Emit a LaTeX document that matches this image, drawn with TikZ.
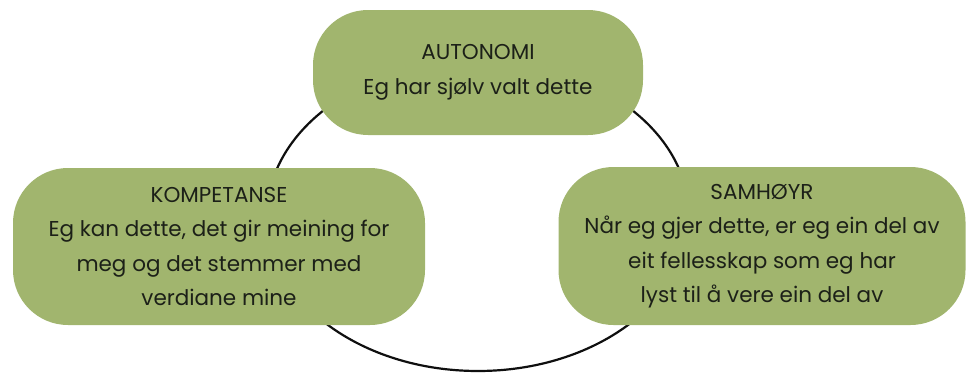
\documentclass[tikz,border=0pt]{standalone}
\usepackage{fontspec}
\setmainfont{Poppins}
\definecolor{pillgreen}{RGB}{161,181,110}
\definecolor{inktext}{RGB}{28,32,24}
\definecolor{ringline}{RGB}{15,15,15}
\begin{document}
\begin{tikzpicture}[x=1pt,y=-1pt,
  pill/.style={fill=pillgreen, draw=none, rounded corners=55pt, inner sep=0pt,
    align=center, text=inktext, font=\fontsize{21.5}{34.5}\selectfont},
  ring/.style={draw=ringline, line width=2.2pt}]
  \useasboundingbox (0,0) rectangle (966,372);
  \draw[ring] (478,216) ellipse [x radius=211, y radius=155];
  \node[pill, minimum width=330pt, minimum height=125pt] (auto) at (478,72.5)
    {AUTONOMI\\Eg har sjølv valt dette};
  \node[pill, minimum width=412pt, minimum height=157pt] (komp) at (219,246.5)
    {KOMPETANSE\\Eg kan dette, det gir meining for\\meg og det stemmer med\\verdiane mine};
  \node[pill, minimum width=407pt, minimum height=158pt] (samh) at (762,246)
    {SAMHØYR\\Når eg gjer dette, er eg ein del av\\eit fellesskap som eg har\\lyst til å vere ein del av};
\end{tikzpicture}
\end{document}
